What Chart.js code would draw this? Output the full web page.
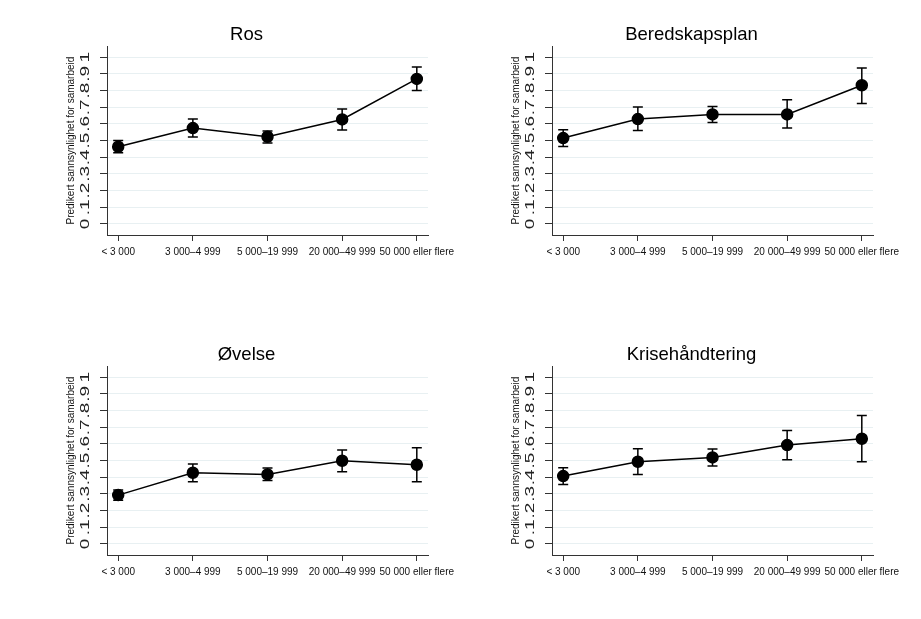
<!DOCTYPE html>
<html>
<head>
<meta charset="utf-8">
<script src="https://cdn.jsdelivr.net/npm/chart.js@4.4.1/dist/chart.umd.min.js"></script>
<style>
  body { margin: 0; background: #fff; width: 921px; height: 619px; position: relative; overflow: hidden; }
  canvas { position: absolute; }
</style>
</head>
<body>
<canvas id="ros" width="418" height="275" style="left:55px;top:0px"></canvas>
<canvas id="beredskap" width="418" height="275" style="left:500px;top:0px"></canvas>
<canvas id="ovelse" width="418" height="275" style="left:55px;top:320px"></canvas>
<canvas id="krise" width="418" height="275" style="left:500px;top:320px"></canvas>
<script>
// kommunestørrelse (innbyggere)
const categories = ['< 3 000', '3 000–4 999', '5 000–19 999', '20 000–49 999', '50 000 eller flere'];
const yTicks = [0, 0.1, 0.2, 0.3, 0.4, 0.5, 0.6, 0.7, 0.8, 0.9, 1];
const yTickLabels = ['0', '.1', '.2', '.3', '.4', '.5', '.6', '.7', '.8', '.9', '1'];

// predikert sannsynlighet med konfidensintervall
const rosMean = [0.463, 0.575, 0.523, 0.627, 0.870];
const rosLow  = [0.427, 0.521, 0.485, 0.563, 0.800];
const rosHigh = [0.501, 0.629, 0.557, 0.689, 0.942];

const beredMean = [0.515, 0.629, 0.657, 0.657, 0.832];
const beredLow  = [0.465, 0.561, 0.609, 0.575, 0.723];
const beredHigh = [0.565, 0.701, 0.705, 0.745, 0.936];

const ovelseMean = [0.293, 0.427, 0.417, 0.499, 0.475];
const ovelseLow  = [0.263, 0.373, 0.381, 0.433, 0.373];
const ovelseHigh = [0.323, 0.479, 0.455, 0.563, 0.577];

const kriseMean = [0.407, 0.493, 0.519, 0.593, 0.631];
const kriseLow  = [0.357, 0.417, 0.467, 0.505, 0.493];
const kriseHigh = [0.457, 0.571, 0.569, 0.681, 0.770];

Chart.defaults.font.family = '"Liberation Sans", Arial, sans-serif';

// konfidensintervall som feilstolper
const errorBars = {
  id: 'errorBars',
  beforeDatasetsDraw(chart, args, opts) {
    const {ctx, scales: {x, y}} = chart;
    ctx.save();
    ctx.strokeStyle = '#000';
    ctx.lineWidth = 1.5;
    opts.low.forEach((lo, i) => {
      const px = x.getPixelForValue(i);
      const pLo = y.getPixelForValue(lo);
      const pHi = y.getPixelForValue(opts.high[i]);
      ctx.beginPath();
      ctx.moveTo(px, pLo); ctx.lineTo(px, pHi);
      ctx.moveTo(px - 5, pLo); ctx.lineTo(px + 5, pLo);
      ctx.moveTo(px - 5, pHi); ctx.lineTo(px + 5, pHi);
      ctx.stroke();
    });
    ctx.restore();
  }
};

// y-etiketter rotert og strukket som i Stata
const yLabels = {
  id: 'yLabels',
  afterDraw(chart) {
    const {ctx, scales: {y}} = chart;
    ctx.save();
    ctx.fillStyle = '#222';
    ctx.font = '12px "Liberation Sans", Arial, sans-serif';
    ctx.textAlign = 'center';
    ctx.textBaseline = 'alphabetic';
    yTicks.forEach((v, i) => {
      ctx.save();
      ctx.translate(y.right - 18, y.getPixelForValue(v));
      ctx.rotate(-Math.PI / 2);
      ctx.scale(1.58, 1);
      ctx.fillText(yTickLabels[i], 0, 0);
      ctx.restore();
    });
    ctx.restore();
  }
};

function makeChart(id, title, mean, low, high) {
  const config = {
    type: 'line',
    data: {
      datasets: [{
        data: mean.map((v, i) => ({x: i, y: v})),
        borderColor: '#000',
        borderWidth: 1.5,
        pointRadius: 5.5,
        pointBackgroundColor: '#000',
        pointBorderColor: '#000',
        tension: 0
      }]
    },
    options: {
      responsive: false,
      animation: false,
      devicePixelRatio: 1,
      layout: { padding: { left: 10, right: 45, top: 24, bottom: 0 } },
      plugins: {
        legend: { display: false },
        tooltip: { enabled: false },
        title: { display: true, text: title, color: '#000', font: { size: 18.5, weight: 'normal' }, padding: 0 },
        errorBars: { low: low, high: high }
      },
      scales: {
        x: {
          type: 'linear',
          min: -0.15,
          max: 4.15,
          afterBuildTicks: s => { s.ticks = categories.map((c, i) => ({value: i})); },
          afterFit: s => { s.height = 40; },
          ticks: { callback: v => categories[v], color: '#111', font: { size: 10 }, padding: 5, maxRotation: 0, autoSkip: false },
          grid: { drawOnChartArea: false, tickColor: '#333', tickLength: 6 },
          border: { color: '#333' }
        },
        y: {
          type: 'linear',
          min: -0.066,
          max: 1.066,
          afterBuildTicks: s => { s.ticks = yTicks.map(v => ({value: v})); },
          afterFit: s => { s.width = 42; },
          ticks: { display: false },
          grid: { color: '#e8f0f2', tickColor: '#333', tickLength: 7 },
          border: { color: '#333' },
          title: { display: true, text: 'Predikert sannsynlighet for samarbeid', color: '#111', font: { size: 10 }, padding: 0 }
        }
      }
    },
    plugins: [errorBars, yLabels]
  };
  return new Chart(document.getElementById(id), config);
}

makeChart('ros', 'Ros', rosMean, rosLow, rosHigh);
makeChart('beredskap', 'Beredskapsplan', beredMean, beredLow, beredHigh);
makeChart('ovelse', 'Øvelse', ovelseMean, ovelseLow, ovelseHigh);
makeChart('krise', 'Krisehåndtering', kriseMean, kriseLow, kriseHigh);
</script>
</body>
</html>
